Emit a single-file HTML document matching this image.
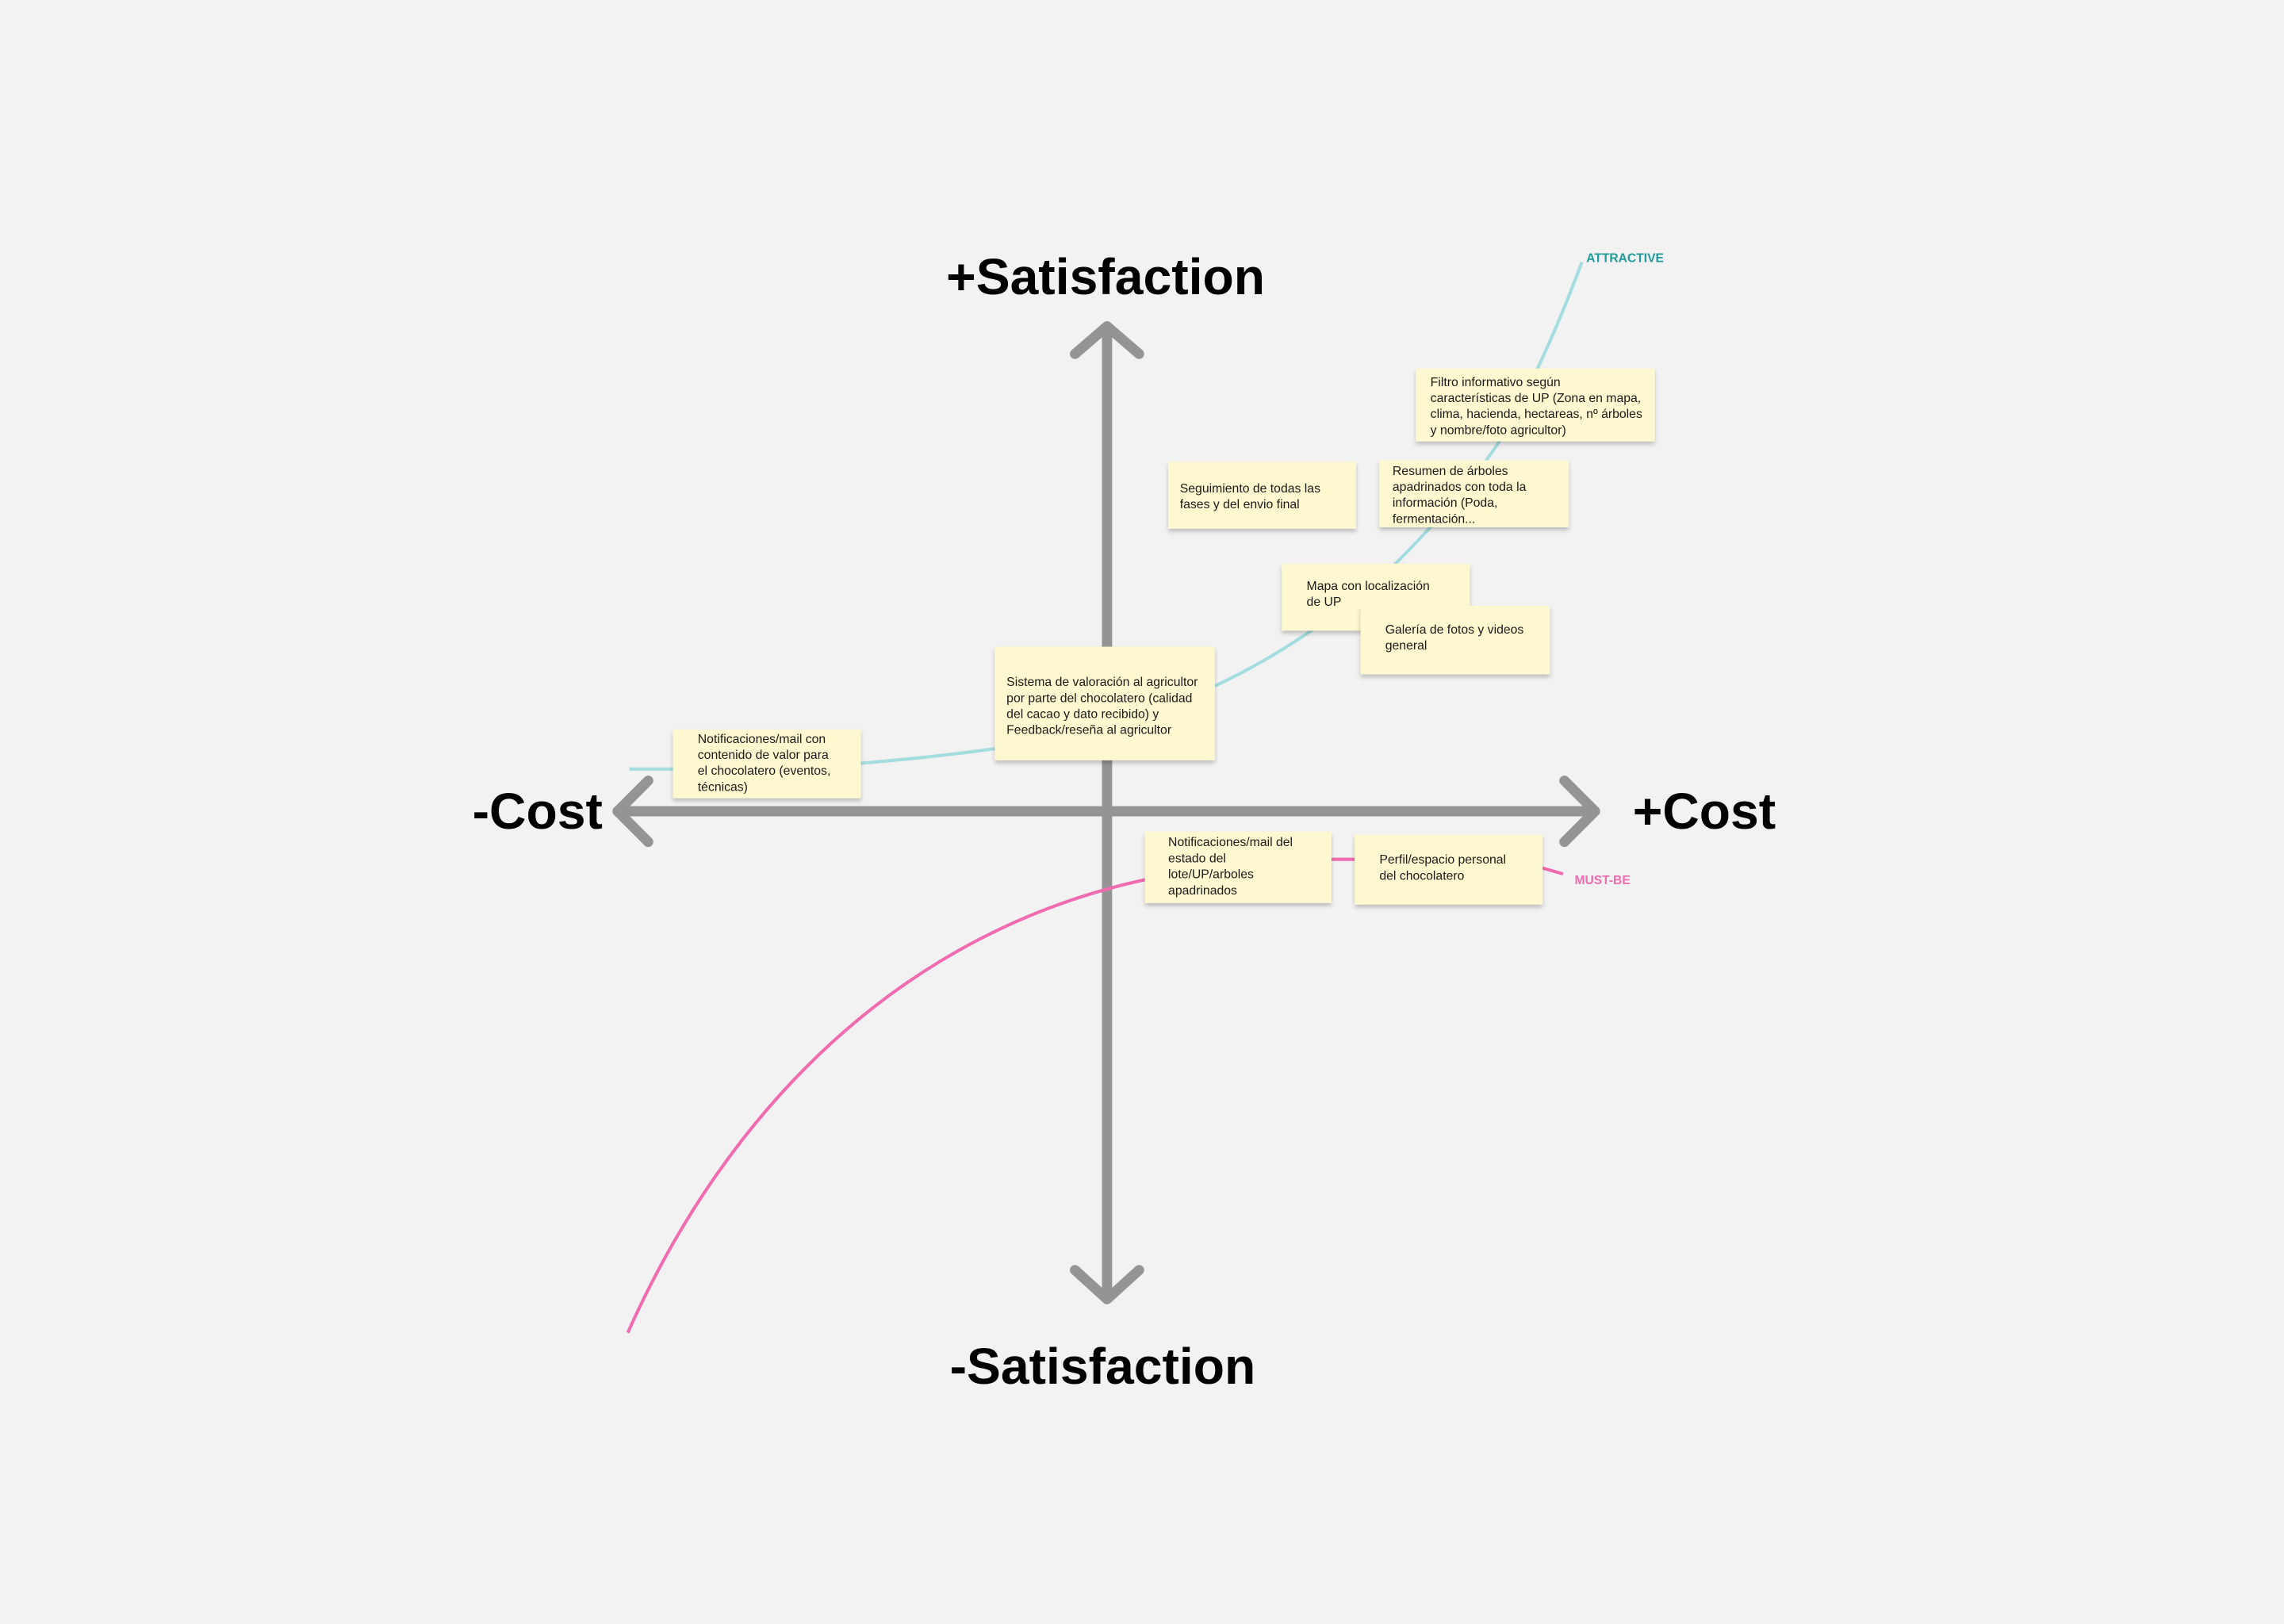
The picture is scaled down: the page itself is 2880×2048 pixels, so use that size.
<!DOCTYPE html>
<html><head><meta charset="utf-8"><style>
html,body{margin:0;padding:0;background:#f2f2f2;}
svg{display:block;}
.n{fill:#fdf8d0;filter:url(#sh);}
.t{font-family:"Liberation Sans",sans-serif;font-size:8.6px;fill:#1a1a1a;}
.big{font-family:"Liberation Sans",sans-serif;font-weight:bold;font-size:35px;fill:#000;}
</style></head><body>
<svg width="2880" height="2048" viewBox="0 0 1568 1115" xmlns="http://www.w3.org/2000/svg">
<defs><filter id="sh" x="-10%" y="-10%" width="130%" height="140%"><feDropShadow dx="0" dy="2" stdDeviation="1.5" flood-color="#000" flood-opacity="0.22"/></filter></defs>
<rect width="1568" height="1115" fill="#f2f2f2"/>
<g stroke="#949494" stroke-width="7" stroke-linecap="round" stroke-linejoin="round" fill="none">
<line x1="760" y1="232" x2="760" y2="890"/>
<line x1="424" y1="557" x2="1094" y2="557"/>
<polyline points="738,243 760,224 782,243"/>
<polyline points="738,872 760,892 782,872"/>
<polyline points="445,536 424,557 445,578"/>
<polyline points="1074,536 1095,557 1074,578"/>
</g>
<g fill="none" stroke-width="2.2">
<path d="M432,528 L462,528 M591,524 Q640,520 683,514 M834,471 Q900,440 958,387 Q1005,340 1030,302 Q1060,250 1086,180" stroke="#a3dde0"/>
<path d="M431,915 C500,760 620,640 786,604 M914,590 L930,590 M1059,596 L1073,600" stroke="#f06bb0"/>
</g>
<text x="759" y="202" text-anchor="middle" class="big">+Satisfaction</text>
<text x="757" y="950" text-anchor="middle" class="big">-Satisfaction</text>
<text x="369" y="569" text-anchor="middle" class="big">-Cost</text>
<text x="1170" y="569" text-anchor="middle" class="big">+Cost</text>
<text x="1089" y="180" font-family="Liberation Sans,sans-serif" font-weight="bold" font-size="8.5" fill="#1f9a9a">ATTRACTIVE</text>
<text x="1081" y="607" font-family="Liberation Sans,sans-serif" font-weight="bold" font-size="8.5" fill="#f06bb0">MUST-BE</text>
<rect class="n" x="972" y="253" width="164" height="50"/>
<text class="t" x="982" y="265"><tspan>Filtro informativo según</tspan><tspan x="982" dy="11">características de UP (Zona en mapa,</tspan><tspan x="982" dy="11">clima, hacienda, hectareas, nº árboles</tspan><tspan x="982" dy="11">y nombre/foto agricultor)</tspan></text>
<rect class="n" x="802" y="317" width="129" height="46"/>
<text class="t" x="810" y="338"><tspan>Seguimiento de todas las</tspan><tspan x="810" dy="11">fases y del envio final</tspan></text>
<rect class="n" x="947" y="316" width="130" height="46"/>
<text class="t" x="956" y="326"><tspan>Resumen de árboles</tspan><tspan x="956" dy="11">apadrinados con toda la</tspan><tspan x="956" dy="11">información (Poda,</tspan><tspan x="956" dy="11">fermentación...</tspan></text>
<rect class="n" x="880" y="387" width="129" height="46"/>
<text class="t" x="897" y="405"><tspan>Mapa con localización</tspan><tspan x="897" dy="11">de UP</tspan></text>
<rect class="n" x="934" y="416" width="130" height="47"/>
<text class="t" x="951" y="435"><tspan>Galería de fotos y videos</tspan><tspan x="951" dy="11">general</tspan></text>
<rect class="n" x="683" y="444" width="151" height="78"/>
<text class="t" x="691" y="471"><tspan>Sistema de valoración al agricultor</tspan><tspan x="691" dy="11">por parte del chocolatero (calidad</tspan><tspan x="691" dy="11">del cacao y dato recibido) y</tspan><tspan x="691" dy="11">Feedback/reseña al agricultor</tspan></text>
<rect class="n" x="462" y="501" width="129" height="47"/>
<text class="t" x="479" y="510"><tspan>Notificaciones/mail con</tspan><tspan x="479" dy="11">contenido de valor para</tspan><tspan x="479" dy="11">el chocolatero (eventos,</tspan><tspan x="479" dy="11">técnicas)</tspan></text>
<rect class="n" x="786" y="571" width="128" height="49"/>
<text class="t" x="802" y="581"><tspan>Notificaciones/mail del</tspan><tspan x="802" dy="11">estado del</tspan><tspan x="802" dy="11">lote/UP/arboles</tspan><tspan x="802" dy="11">apadrinados</tspan></text>
<rect class="n" x="930" y="573" width="129" height="48"/>
<text class="t" x="947" y="593"><tspan>Perfil/espacio personal</tspan><tspan x="947" dy="11">del chocolatero</tspan></text>
</svg>
</body></html>
